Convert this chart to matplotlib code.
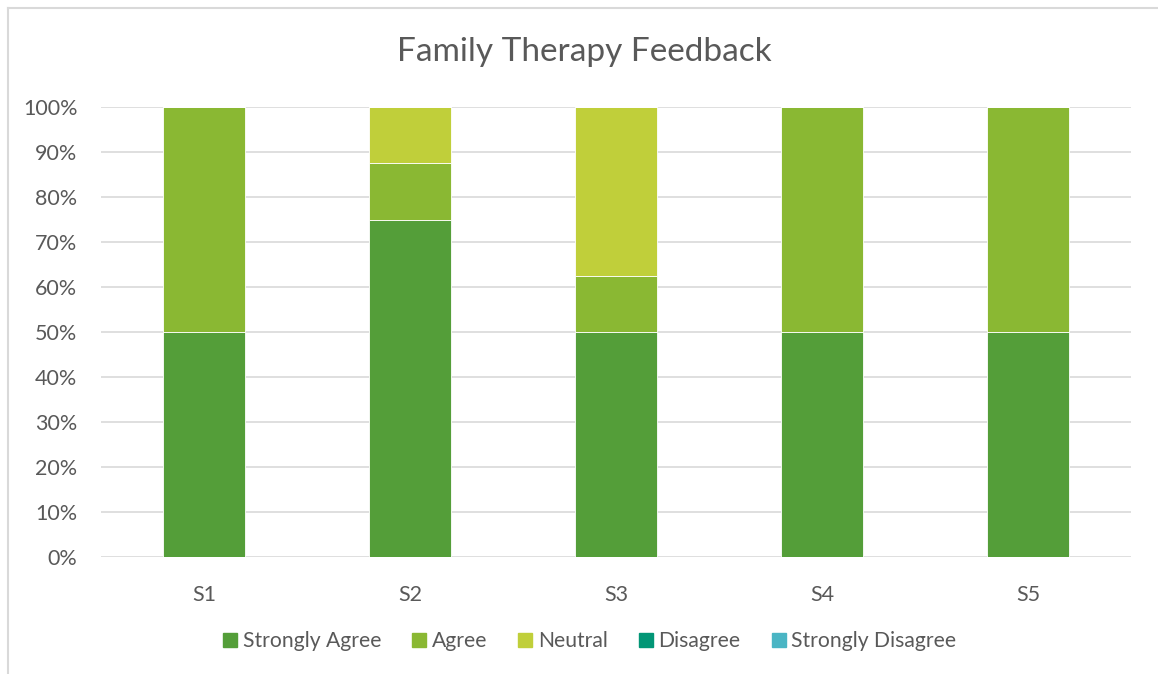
import matplotlib.pyplot as plt
from matplotlib.lines import Line2D
import numpy as np

categories = ['S1', 'S2', 'S3', 'S4', 'S5']
strongly_agree = [50, 75, 50, 50, 50]
agree = [50, 12.5, 12.5, 50, 50]
neutral = [0, 12.5, 37.5, 0, 0]
disagree = [0, 0, 0, 0, 0]
strongly_disagree = [0, 0, 0, 0, 0]

series = ['Strongly Agree', 'Agree', 'Neutral', 'Disagree', 'Strongly Disagree']
colors = ['#549E39', '#8AB833', '#C0CF3A', '#029676', '#4AB5C4']
text_color = '#595959'

plt.rcParams['font.family'] = ['Lato', 'DejaVu Sans']

fig = plt.figure(figsize=(11.58, 6.74), dpi=100)
ax = fig.add_axes([101 / 1158, 1 - 557 / 674, 1030 / 1158, 450 / 674])

x = np.arange(len(categories))
bottom = np.zeros(len(categories))
for name, vals, c in zip(series, [strongly_agree, agree, neutral, disagree, strongly_disagree], colors):
    vals = np.array(vals, dtype=float)
    ax.bar(x, vals, 0.4, bottom=bottom, color=c, edgecolor='white', linewidth=0.6, label=name, zorder=3)
    bottom += vals

ax.set_xlim(-0.5, len(categories) - 0.5)
ax.set_ylim(0, 100)
ax.set_yticks(np.arange(0, 101, 10))
ax.set_yticklabels([f'{v}%' for v in range(0, 101, 10)])
ax.set_xticks(x)
ax.set_xticklabels(categories)
ax.grid(axis='y', color='#D9D9D9', linewidth=1.2, zorder=0)
for s in ax.spines.values():
    s.set_visible(False)
ax.tick_params(length=0, colors=text_color, labelsize=15.5)
ax.tick_params(axis='x', pad=20)
ax.tick_params(axis='y', pad=17)

fig.text(584 / 1158, 1 - 52 / 674, 'Family Therapy Feedback', ha='center', va='center',
         fontsize=24, color=text_color)

handles = [Line2D([], [], marker='s', linestyle='none', markersize=10, markerfacecolor=c,
                  markeredgecolor=c) for c in colors]
fig.legend(handles, series, loc='center', bbox_to_anchor=(588 / 1158, 1 - 641 / 674), ncol=5,
           frameon=False, fontsize=15.2, labelcolor=text_color, handletextpad=0.1, columnspacing=1.3,
           handlelength=1.0)

# chart border (left and top only visible)
fig.add_artist(Line2D([8 / 1158, 8 / 1158], [0, 1 - 8 / 674], transform=fig.transFigure, color='#D9D9D9', linewidth=1.5))
fig.add_artist(Line2D([8 / 1158, 1], [1 - 8 / 674, 1 - 8 / 674], transform=fig.transFigure, color='#D9D9D9', linewidth=1.5))

fig.savefig('out.png', dpi=100, facecolor='white')
